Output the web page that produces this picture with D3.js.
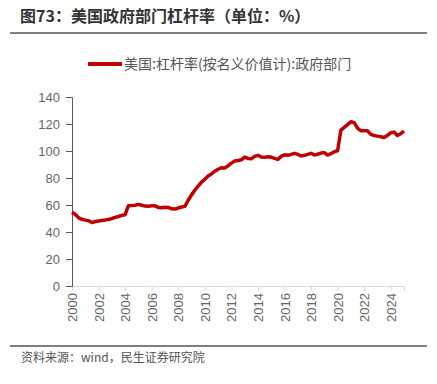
<!DOCTYPE html>
<html>
<head>
<meta charset="utf-8">
<script src="https://cdn.jsdelivr.net/npm/d3@7"></script>
<style>
  body { margin: 0; background: #fff; }
  svg { display: block; }
</style>
</head>
<body>
<div id="chart"></div>
<script>
// Data: quarterly, starting 2000Q1
const startYear = 2000;
const values = [
  54.6, 53.0, 50.5, 49.4,   // 2000
  48.8, 48.4, 47.0, 47.8,   // 2001
  48.2, 48.6, 48.9, 49.3,   // 2002
  50.0, 50.8, 51.5, 52.3,   // 2003
  52.8, 59.5, 59.6, 59.8,   // 2004
  60.5, 59.8, 59.2, 59.0,   // 2005
  59.5, 59.4, 58.2, 58.0,   // 2006
  58.3, 58.2, 57.2, 57.0,   // 2007
  57.8, 58.5, 59.0, 63.5,   // 2008
  67.5, 71.0, 74.0, 77.0,   // 2009
  79.0, 81.5, 83.0, 85.0,   // 2010
  86.5, 87.6, 87.4, 89.0,   // 2011
  91.0, 92.6, 93.0, 93.5,   // 2012
  95.5, 94.5, 94.3, 96.0,   // 2013
  96.8, 95.5, 95.3, 95.8,   // 2014
  95.5, 94.5, 93.8, 96.0,   // 2015
  97.2, 96.8, 97.5, 98.3,   // 2016
  97.5, 96.3, 96.8, 97.5,   // 2017
  98.3, 97.0, 97.6, 98.5,   // 2018
  98.8, 97.0, 98.0, 99.5,   // 2019
  100.2, 115.5, 117.5, 119.5, // 2020
  121.7, 121.0, 117.0, 115.0, // 2021
  115.0, 115.0, 112.3, 111.5, // 2022
  111.0, 110.5, 110.0, 111.5, // 2023
  113.5, 114.0, 111.5, 112.8, // 2024
  114.8                       // 2025
];
const xTicks = [2000, 2002, 2004, 2006, 2008, 2010, 2012, 2014, 2016, 2018, 2020, 2022, 2024];
const yTicks = [0, 20, 40, 60, 80, 100, 120, 140];

const title = '图73：美国政府部门杠杆率（单位：%）';
const seriesName = '美国:杠杆率(按名义价值计):政府部门';
const source = '资料来源：wind，民生证券研究院';

const W = 437, H = 384;
const font = '"Liberation Sans", Arial, "Noto Sans CJK SC", sans-serif';
const cjk = '"Noto Sans CJK SC", "Liberation Sans", sans-serif';

const svg = d3.select('#chart').append('svg')
  .attr('width', W).attr('height', H);

// Title + rules
svg.append('text')
  .attr('x', 20).attr('y', 22)
  .attr('font-family', cjk).attr('font-weight', 'bold')
  .attr('font-size', 16).attr('fill', '#333')
  .text(title);

svg.append('line')
  .attr('x1', 10).attr('x2', 427).attr('y1', 33).attr('y2', 33)
  .attr('stroke', '#555').attr('stroke-width', 1.5);

svg.append('line')
  .attr('x1', 10).attr('x2', 427).attr('y1', 346).attr('y2', 346)
  .attr('stroke', '#555').attr('stroke-width', 1.5);

svg.append('text')
  .attr('x', 21).attr('y', 362)
  .attr('font-family', cjk).attr('font-size', 12).attr('fill', '#555')
  .text(source);

// Scales
const x = d3.scaleLinear().domain([2000, 2025]).range([72, 404]);
const y = d3.scaleLinear().domain([0, 140]).range([286, 97]);

// Y axis
const yAxis = svg.append('g')
  .attr('transform', 'translate(72,0)')
  .call(d3.axisLeft(y).tickValues(yTicks).tickSize(6).tickPadding(6));
yAxis.select('.domain').attr('stroke', '#595959');
yAxis.selectAll('.tick line').attr('stroke', '#595959');
yAxis.selectAll('.tick text')
  .attr('font-family', font).attr('font-size', 13).attr('fill', '#666');

// X axis
const xAxis = svg.append('g')
  .attr('transform', 'translate(0,286)')
  .call(d3.axisBottom(x).tickValues(xTicks).tickSize(5).tickFormat(d3.format('d')));
xAxis.select('.domain').attr('stroke', '#d9d9d9');
xAxis.selectAll('.tick line').attr('stroke', '#d9d9d9');
xAxis.selectAll('.tick text')
  .attr('font-family', font).attr('font-size', 13).attr('fill', '#666')
  .attr('transform', 'rotate(-90)')
  .attr('text-anchor', 'end')
  .attr('x', -7).attr('y', 0).attr('dy', '0.35em');

// Redraw y domain on top of x domain at the corner
yAxis.raise();

// Line
const line = d3.line()
  .x((d, i) => x(startYear + i / 4))
  .y(d => y(d));

svg.append('path')
  .datum(values)
  .attr('fill', 'none')
  .attr('stroke', '#c00000')
  .attr('stroke-width', 3.5)
  .attr('stroke-linejoin', 'round')
  .attr('d', line);

// Legend
svg.append('line')
  .attr('x1', 88).attr('x2', 122).attr('y1', 64).attr('y2', 64)
  .attr('stroke', '#c00000').attr('stroke-width', 4);
svg.append('text')
  .attr('x', 124).attr('y', 64).attr('dy', '0.35em')
  .attr('font-family', cjk).attr('font-size', 14).attr('fill', '#555')
  .text(seriesName);
</script>
</body>
</html>
